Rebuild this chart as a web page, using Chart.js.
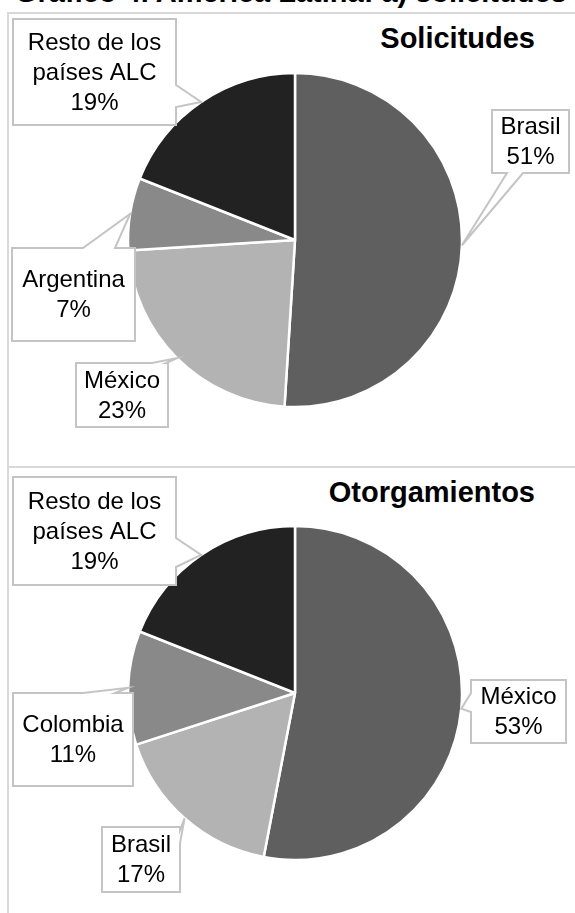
<!DOCTYPE html>
<html>
<head>
<meta charset="utf-8">
<title>América Latina: solicitudes y otorgamientos</title>
<script src="https://cdn.jsdelivr.net/npm/chart.js@4/dist/chart.umd.min.js"></script>
<style>
  html, body { margin: 0; padding: 0; background: #fff; overflow: hidden; }
  body { width: 575px; height: 913px; position: relative; font-family: "Liberation Sans", Arial, sans-serif; }
  #head {
    position: absolute; left: 15px; top: -24px; white-space: nowrap;
    font: bold 29px "Liberation Sans", Arial, sans-serif; color: #000;
  }
  #frame {
    position: absolute; left: 7px; top: 12px; width: 580px; height: 920px;
    border-left: 2px solid #d9d9d9; border-top: 2px solid #d9d9d9;
  }
  #split { position: absolute; left: 7px; top: 466px; width: 580px; border-top: 2px solid #d9d9d9; }
  .ttl {
    position: absolute; right: 40px; white-space: nowrap;
    font: bold 29px "Liberation Sans", Arial, sans-serif; color: #000;
  }
  canvas { position: absolute; left: 0; }
</style>
</head>
<body>
<div id="head">Gráfico 4. América Latina: a) solicitudes</div>
<div id="frame"></div>
<div id="split"></div>
<div class="ttl" style="top:22px">Solicitudes</div>
<div class="ttl" style="top:476px">Otorgamientos</div>
<canvas id="solicitudes" width="575" height="452" style="top:14px"></canvas>
<canvas id="otorgamientos" width="575" height="452" style="top:467px"></canvas>
<script>
// shares by country, in percent
var solLabels = ['Brasil', 'México', 'Argentina', ['Resto de los', 'países ALC']];
var solValues = [51, 23, 7, 19];
var otoLabels = ['México', 'Brasil', 'Colombia', ['Resto de los', 'países ALC']];
var otoValues = [53, 17, 11, 19];

var sliceColors = ['#5f5f5f', '#b3b3b3', '#898989', '#222222'];

// label boxes: x, y, w, h in canvas pixels; the pointer leaves the box on `edge`
// between offsets `from` and `to`
var solBoxes = [
  {x: 492, y: 96, w: 77, h: 63, edge: 'bottom', from: 15, to: 31},
  {x: 76, y: 349, w: 92, h: 64, edge: 'top', from: 76, to: 90},
  {x: 12, y: 234, w: 123, h: 93, edge: 'top', from: 71, to: 103},
  {x: 13, y: 5, w: 163, h: 106, edge: 'right', from: 66, to: 88}
];
var otoBoxes = [
  {x: 471, y: 213, w: 95, h: 63, edge: 'left', from: 13, to: 32},
  {x: 102, y: 360, w: 78, h: 65, edge: 'right', from: 3, to: 16},
  {x: 13, y: 226, w: 120, h: 93, edge: 'top', from: 70, to: 102},
  {x: 13, y: 10, w: 163, h: 108, edge: 'right', from: 61, to: 90}
];

function calloutPath(ctx, b, tip) {
  var r = b.x + b.w, btm = b.y + b.h;
  var pts = [[b.x, b.y]];
  if (b.edge === 'top') pts.push([b.x + b.from, b.y], tip, [b.x + b.to, b.y]);
  pts.push([r, b.y]);
  if (b.edge === 'right') pts.push([r, b.y + b.from], tip, [r, b.y + b.to]);
  pts.push([r, btm]);
  if (b.edge === 'bottom') pts.push([b.x + b.to, btm], tip, [b.x + b.from, btm]);
  pts.push([b.x, btm]);
  if (b.edge === 'left') pts.push([b.x, b.y + b.to], tip, [b.x, b.y + b.from]);
  ctx.beginPath();
  ctx.moveTo(pts[0][0], pts[0][1]);
  for (var i = 1; i < pts.length; i++) ctx.lineTo(pts[i][0], pts[i][1]);
  ctx.closePath();
}

var callouts = {
  id: 'callouts',
  afterDatasetsDraw: function(chart, args, opts) {
    var ctx = chart.ctx;
    var meta = chart.getDatasetMeta(0);
    var ds = chart.data.datasets[0];
    ctx.save();
    meta.data.forEach(function(arc, i) {
      var p = arc.getProps(['x', 'y', 'startAngle', 'endAngle', 'outerRadius'], true);
      var mid = (p.startAngle + p.endAngle) / 2;
      var tip = [p.x + Math.cos(mid) * p.outerRadius, p.y + Math.sin(mid) * p.outerRadius];
      var b = opts.boxes[i];
      calloutPath(ctx, b, tip);
      ctx.fillStyle = '#fff';
      ctx.fill();
      ctx.lineWidth = 2;
      ctx.strokeStyle = '#c4c4c4';
      ctx.lineJoin = 'miter';
      ctx.stroke();

      var lab = chart.data.labels[i];
      var lines = (Array.isArray(lab) ? lab.slice() : [lab]);
      lines.push(ds.data[i] + '%');
      ctx.fillStyle = '#000';
      ctx.font = '24px "Liberation Sans", Arial, sans-serif';
      ctx.textAlign = 'center';
      ctx.textBaseline = 'middle';
      var lh = 30;
      var cy = b.y + b.h / 2 - (lines.length - 1) * lh / 2 + 1;
      lines.forEach(function(t, k) {
        ctx.fillText(t, b.x + b.w / 2, cy + k * lh);
      });
    });
    ctx.restore();
  }
};

function makePie(id, labels, values, boxes) {
  return new Chart(document.getElementById(id), {
    type: 'pie',
    data: {
      labels: labels,
      datasets: [{
        data: values,
        backgroundColor: sliceColors,
        borderColor: '#ffffff',
        borderWidth: 2.5
      }]
    },
    options: {
      responsive: false,
      animation: false,
      radius: 167,
      layout: { padding: { left: 15 } },
      events: [],
      plugins: {
        legend: { display: false },
        tooltip: { enabled: false },
        callouts: { boxes: boxes }
      }
    },
    plugins: [callouts]
  });
}

makePie('solicitudes', solLabels, solValues, solBoxes);
makePie('otorgamientos', otoLabels, otoValues, otoBoxes);
</script>
</body>
</html>
